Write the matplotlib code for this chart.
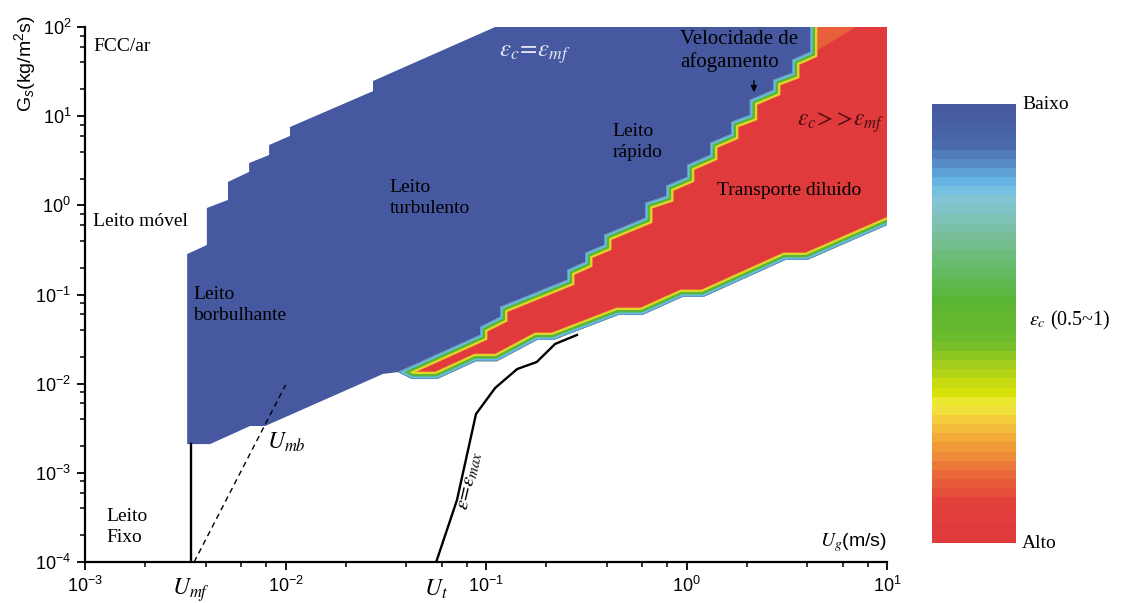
import matplotlib

matplotlib.use("Agg")
import matplotlib.pyplot as plt
import numpy as np
from matplotlib.cm import ScalarMappable
from matplotlib.colors import LinearSegmentedColormap, ListedColormap, Normalize

# ---- data (Ug in m/s, Gs in kg/m2s) ----
# blue region (eps_c = eps_mf): left edge + upper-left staircase
blue_left_ug = [0.00323, 0.00323, 0.00405, 0.00405, 0.00516, 0.00516, 0.00658,
                0.00658, 0.00828, 0.00828, 0.01052, 0.01052, 0.0273, 0.0273, 0.111]
blue_left_gs = [0.0021, 0.284, 0.359, 0.933, 1.15, 1.83, 2.37,
                2.98, 3.67, 4.75, 6.0, 7.56, 19.1, 24.8, 100]
# blue region lower edge (from red tip back to Umf)
blue_low_ug = [0.0306, 0.00791, 0.00665, 0.0042]
blue_low_gs = [0.01285, 0.00335, 0.00335, 0.0021]

# blue / red staircase (choking boundary), from tip upwards
stair_ug = [0.0364, 0.0933, 0.0933, 0.1175, 0.1175, 0.2535, 0.2535, 0.312, 0.312,
            0.388, 0.388, 0.621, 0.621, 0.791, 0.791, 1.005, 1.005, 1.31, 1.31,
            1.667, 1.667, 2.07, 2.07, 2.70, 2.70, 3.36, 3.36, 4.13, 4.13]
stair_gs = [0.0135, 0.0352, 0.0432, 0.056, 0.0724, 0.146, 0.188, 0.232, 0.292,
            0.359, 0.465, 0.721, 1.06, 1.27, 1.65, 2.08, 2.83, 3.67, 5.0,
            6.31, 8.6, 10.3, 15.2, 19.6, 25.4, 30.5, 42.7, 52.5, 100]
# red region cap beyond the plot frame
cap_ug = [4.13, 20.0]
cap_gs = [300, 300]
# red region lower edge (dilute transport / white), from tip to the right
low_ug = [0.0364, 0.0428, 0.0570, 0.0891, 0.1135, 0.179, 0.216, 0.455, 0.600,
          0.951, 1.21, 3.10, 3.99, 10.0, 20.0]
low_gs = [0.0135, 0.01128, 0.01128, 0.0179, 0.0179, 0.0309, 0.0309, 0.0589, 0.0589,
          0.0938, 0.0938, 0.244, 0.244, 0.602, 1.19]
# orange tint near the top-right corner
orange_ug = [4.3, 7.0, 4.5]
orange_gs = [100, 100, 55]

# eps = eps_max line
emax_ug = [0.0564, 0.0716, 0.0891, 0.111, 0.143, 0.179, 0.221, 0.284]
emax_gs = [1e-4, 4.95e-4, 0.00457, 0.00895, 0.0146, 0.0175, 0.0279, 0.0352]
# U_mb dashed line
umb_ug = [0.0035, 0.0100]
umb_gs = [1e-4, 0.00966]
# U_mf vertical line
umf_ug = [0.00338, 0.00338]
umf_gs = [1e-4, 0.0021]

xticks = [1e-3, 1e-2, 1e-1, 1e0, 1e1]
xtick_labels = [r"$10^{-3}$", r"$10^{-2}$", r"$10^{-1}$", r"$10^{0}$", r"$10^{1}$"]
yticks = [1e-4, 1e-3, 1e-2, 1e-1, 1e0, 1e1, 1e2]
ytick_labels = [r"$10^{-4}$", r"$10^{-3}$", r"$10^{-2}$", r"$10^{-1}$",
                r"$10^{0}$", r"$10^{1}$", r"$10^{2}$"]

BLUE = "#4659a0"
RED = "#e03a3c"
band_colors = ["#f0a23a", "#dcdc22", "#5cb536", "#66bde6", "#5a86c8"]
band_widths = [10.8, 9.8, 7.2, 3.6, 1.0]

plt.rcParams["font.family"] = "Liberation Serif"
plt.rcParams["mathtext.fontset"] = "custom"
plt.rcParams["mathtext.rm"] = "Liberation Sans"
plt.rcParams["mathtext.it"] = "Liberation Sans:italic"

fig = plt.figure(figsize=(11.28, 6.03), dpi=100)
ax = fig.add_axes([0.0754, 0.068, 0.711, 0.8872])
ax.set_xscale("log")
ax.set_yscale("log")
ax.set_xlim(1e-3, 10)
ax.set_ylim(1e-4, 100)

# blue region (drawn under the red one)
bx = blue_left_ug + cap_ug[1:] + low_ug[::-1] + blue_low_ug
by = blue_left_gs + cap_gs[1:] + low_gs[::-1] + blue_low_gs
ax.fill(bx, by, color=BLUE, lw=0, zorder=1)

# red region with coloured transition bands along its edge
rx = stair_ug + cap_ug + low_ug[::-1]
ry = stair_gs + cap_gs + low_gs[::-1]
red_patch = ax.fill(rx, ry, color=RED, lw=0, zorder=2)[0]
ax.fill(orange_ug, orange_gs, color="#ec7a3a", lw=0, alpha=0.6, zorder=2.5)
for col, lw in zip(band_colors, band_widths):
    (ln,) = ax.plot(rx + rx[:1], ry + ry[:1], color=col, lw=lw,
                    solid_joinstyle="miter", zorder=3)
    ln.set_clip_path(red_patch)

ax.plot(emax_ug, emax_gs, color="black", lw=1.7, zorder=5)
ax.plot(umb_ug, umb_gs, color="black", lw=1.0, ls=(0, (4, 3)), zorder=5)
ax.plot(umf_ug, umf_gs, color="black", lw=1.7, zorder=5)

# axes styling
for side in ["top", "right"]:
    ax.spines[side].set_visible(False)
for side in ["left", "bottom"]:
    ax.spines[side].set_linewidth(1.6)
ax.set_xticks(xticks, xtick_labels)
ax.set_yticks(yticks, ytick_labels)
ax.xaxis.set_minor_locator(matplotlib.ticker.LogLocator(base=10, subs=[2, 4, 6, 8]))
ax.yaxis.set_minor_locator(matplotlib.ticker.LogLocator(base=10, subs=[2, 4, 6, 8]))
ax.xaxis.set_minor_formatter(matplotlib.ticker.NullFormatter())
ax.yaxis.set_minor_formatter(matplotlib.ticker.NullFormatter())
ax.tick_params(which="major", direction="out", length=6, width=1.3, labelsize=13, pad=4)
ax.tick_params(which="minor", direction="out", length=3.5, width=1.1)

# labels on the map
serif = dict(transform=ax.transAxes, fontsize=14, zorder=6)
ax.text(0.010, 0.964, "FCC/ar", ha="left", va="center", **serif)
ax.text(0.010, 0.637, "Leito móvel", ha="left", va="center", **serif)
ax.text(0.135, 0.480, "Leito\nborbulhante", ha="left", va="center", linespacing=1.35, **serif)
ax.text(0.380, 0.680, "Leito\nturbulento", ha="left", va="center", linespacing=1.35, **serif)
ax.text(0.658, 0.785, "Leito\nrápido", ha="left", va="center", linespacing=1.35, **serif)
ax.text(0.742, 0.955, "Velocidade de\nafogamento", ha="left", va="center",
        linespacing=1.2, **dict(serif, fontsize=15))
ax.text(0.788, 0.695, "Transporte diluido", ha="left", va="center", **serif)
ax.text(0.027, 0.065, "Leito\nFixo", ha="left", va="center", linespacing=1.35, **serif)
ax.annotate("", xy=(0.834, 0.873), xytext=(0.834, 0.905), xycoords="axes fraction",
            arrowprops=dict(arrowstyle="-|>", color="black", lw=1.0, mutation_scale=9),
            zorder=6)

ax.text(0.516, 0.948, r"$\varepsilon_c\!=\!\varepsilon_{mf}$", color="#e4e7f4",
        ha="left", va="center", math_fontfamily="stix", **dict(serif, fontsize=18))
ax.text(0.888, 0.822, r"$\varepsilon_c\!>\!>\!\varepsilon_{mf}$", color="#4a0c10",
        ha="left", va="center", math_fontfamily="stix", **dict(serif, fontsize=17))
ax.text(0.227, 0.224, r"$U_{mb}$", ha="left", va="center", math_fontfamily="stix",
        **dict(serif, fontsize=17))
ax.text(0.480, 0.153, r"$\varepsilon\!=\!\varepsilon_{max}$", ha="center", va="center",
        rotation=77, math_fontfamily="stix", **dict(serif, fontsize=15))
ax.text(1.0, 0.037, r"$U_g$(m/s)", ha="right", va="center", family="Liberation Sans",
        math_fontfamily="stix", transform=ax.transAxes, fontsize=14)

# U_mf and U_t under the axis
xt = ax.get_xaxis_transform()
ax.text(umf_ug[0], -0.052, r"$U_{mf}$", transform=xt, ha="center", va="center",
        math_fontfamily="stix", fontsize=17, clip_on=False)
ax.text(emax_ug[0], -0.052, r"$U_t$", transform=xt, ha="center", va="center",
        math_fontfamily="stix", fontsize=17, clip_on=False)

fig.text(0.022, 0.895, r"G$_s$(kg/m$^2$s)", rotation=90, ha="center", va="center",
         family="Liberation Sans", fontsize=14)

# colour scale for eps_c
anchors = [(0.0, "#e03a3c"), (0.08, "#e2403c"), (0.15, "#ea6a3a"), (0.21, "#f09a38"),
           (0.27, "#f5c83c"), (0.31, "#f0ea3c"), (0.34, "#d8e20a"), (0.40, "#a6ce1c"),
           (0.46, "#6cbb2c"), (0.55, "#5bb532"), (0.61, "#62b95a"), (0.70, "#78bf98"),
           (0.79, "#84c5d6"), (0.82, "#6abfea"), (0.86, "#5a98d0"), (0.92, "#4a68ac"),
           (1.0, "#4659a0")]
smooth = LinearSegmentedColormap.from_list("epsc", anchors)
cmap = ListedColormap(smooth(np.linspace(0, 1, 48)))
cax = fig.add_axes([0.8262, 0.0995, 0.0745, 0.728])
cb = fig.colorbar(ScalarMappable(norm=Normalize(0, 1), cmap=cmap), cax=cax)
cb.outline.set_visible(False)
cb.set_ticks([])
fig.text(0.906, 0.8275, "Baixo", ha="left", va="center", fontsize=14)
fig.text(0.906, 0.0995, "Alto", ha="left", va="center", fontsize=14)
fig.text(0.912, 0.469, r"$\varepsilon_c$ (0.5~1)", ha="left", va="center", fontsize=14.5,
         math_fontfamily="stix")

fig.savefig("out.png", dpi=100)
